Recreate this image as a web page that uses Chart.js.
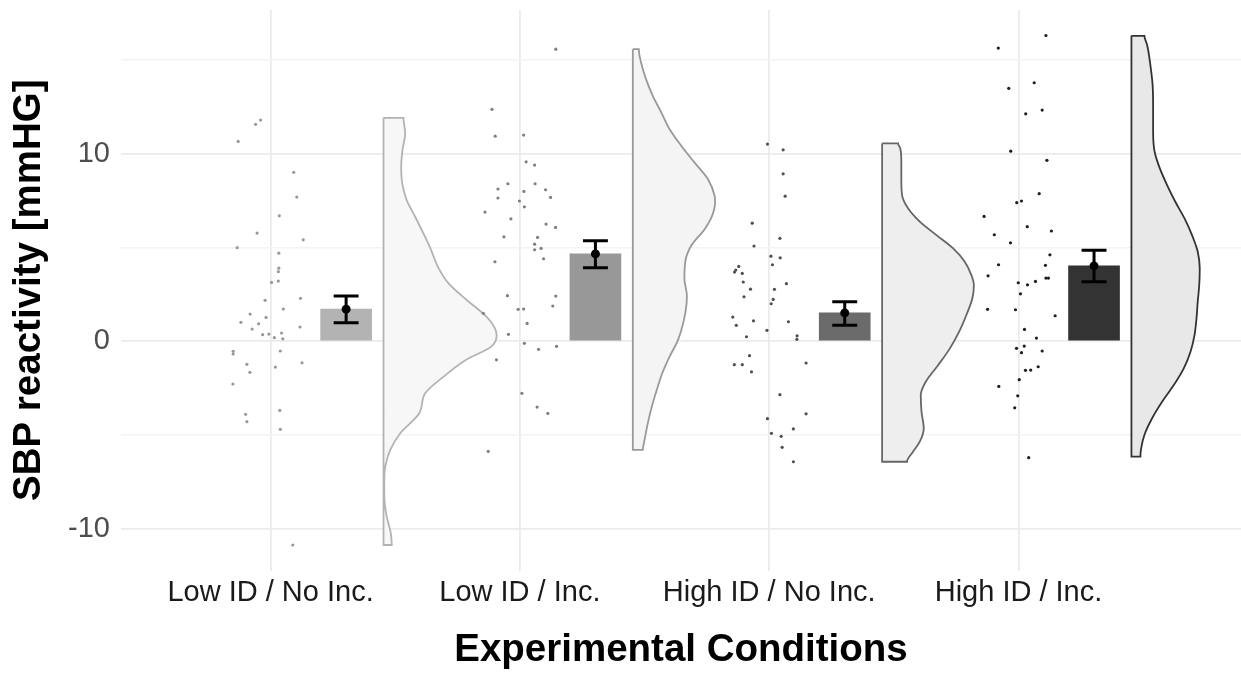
<!DOCTYPE html>
<html>
<head>
<meta charset="utf-8">
<script src="https://cdn.jsdelivr.net/npm/chart.js@4.4.1/dist/chart.umd.min.js"></script>
<style>
html,body{margin:0;padding:0;background:#ffffff;}
#wrap{width:1241px;height:675px;}
</style>
</head>
<body>
<div id="wrap"><canvas id="c" width="1241" height="675"></canvas></div>
<script>
// ---------------- data ----------------
const categories = ['Low ID / No Inc.', 'Low ID / Inc.', 'High ID / No Inc.', 'High ID / Inc.'];
const means  = [1.70, 4.65, 1.50, 4.01];
const ciLow  = [0.98, 3.91, 0.84, 3.16];
const ciHigh = [2.40, 5.35, 2.10, 4.84];
const yTickValues = [-10, -5, 0, 5, 10, 15];

// raw observations: horizontal jitter (category units) and value (mmHg)
const jitter1 = [-0.040,-0.060,-0.130,0.093,0.105,0.035,-0.054,0.131,-0.134,0.033,0.033,0.031,0.004,0.031,-0.022,0.120,0.051,-0.082,-0.018,-0.119,-0.048,-0.074,0.118,-0.032,-0.007,0.015,0.044,0.049,-0.150,-0.150,0.039,-0.095,0.126,0.019,-0.083,-0.151,0.037,-0.100,-0.095,0.039,0.089];
const values1 = [11.79,11.56,10.65,9.00,7.68,6.68,5.76,5.40,4.98,4.69,3.89,3.70,3.13,3.20,2.17,2.28,1.71,1.44,1.26,1.00,0.92,0.64,0.75,0.34,0.37,0.18,0.43,0.12,-0.55,-0.69,-0.53,-1.24,-1.16,-1.39,-1.67,-2.29,-3.70,-3.91,-4.30,-4.71,-10.88];
const jitter2 = [0.144,-0.112,-0.099,0.015,0.025,0.059,-0.048,-0.088,0.061,0.016,0.103,-0.088,-0.002,0.123,0.018,-0.140,-0.036,0.105,0.143,-0.064,0.071,0.059,0.085,0.059,0.095,-0.100,-0.050,0.144,0.132,-0.147,-0.007,0.015,0.029,-0.046,0.018,0.075,0.147,-0.094,0.008,0.069,0.112,-0.127];
const values2 = [15.57,12.36,10.93,10.99,9.56,9.39,8.39,8.11,8.39,7.98,8.07,7.63,7.47,7.66,7.16,6.88,6.52,6.24,6.06,5.56,5.53,5.17,4.94,4.87,4.39,4.23,2.42,2.40,1.87,1.48,1.69,1.71,0.94,0.36,-0.12,-0.44,-0.28,-1.00,-2.79,-3.52,-3.86,-5.88];
const jitter3 = [-0.007,0.056,0.056,0.064,-0.068,0.043,-0.061,0.007,0.044,0.013,-0.122,-0.134,-0.139,-0.108,-0.104,0.069,-0.075,0.021,-0.101,0.016,0.008,-0.146,-0.132,-0.063,0.077,-0.009,-0.091,0.112,0.111,-0.079,0.148,-0.140,-0.108,-0.071,0.043,0.148,-0.007,0.097,0.009,0.048,0.052,0.097];
const values3 = [10.51,10.20,8.92,7.73,6.29,5.48,5.07,4.53,4.44,4.07,3.98,3.79,3.68,3.61,3.15,3.06,2.77,2.76,2.36,2.22,1.99,1.28,0.84,1.08,1.03,0.57,0.23,0.28,0.09,-0.78,-1.17,-1.26,-1.26,-1.64,-2.86,-3.88,-4.14,-4.69,-4.92,-5.08,-5.67,-6.44];
const jitter4 = [0.110,-0.081,0.063,-0.039,0.095,0.029,-0.031,0.114,0.083,-0.007,0.012,-0.138,0.035,-0.097,0.132,-0.032,0.126,-0.080,0.108,-0.122,-0.001,0.036,0.068,0.110,0.120,0.008,-0.124,-0.012,0.147,0.024,0.072,-0.008,0.023,0.012,0.095,0.028,0.049,0.079,0.003,-0.079,-0.003,-0.015,0.041];
const values4 = [16.30,15.63,13.78,13.48,12.32,12.12,10.13,9.64,7.86,7.38,7.47,6.65,6.10,5.67,5.87,5.24,4.60,4.07,4.04,3.48,3.11,3.00,3.18,3.36,3.36,2.52,1.69,1.67,1.35,0.62,0.16,-0.39,-0.27,-0.62,-0.53,-1.56,-1.55,-1.37,-2.06,-2.42,-2.92,-3.56,-6.22];

// half-violin outlines: value (mmHg) and half-width (category units)
const violinY1 = [11.91,11.08,10.19,9.30,8.41,7.52,6.63,5.74,4.85,3.96,3.08,2.19,1.30,0.76,0.32,-0.30,-1.01,-1.90,-2.79,-3.84,-4.92,-5.81,-6.70,-7.57,-8.48,-9.37,-10.24,-10.88];
const violinW1 = [0.080,0.087,0.076,0.071,0.075,0.093,0.127,0.160,0.191,0.218,0.261,0.334,0.413,0.444,0.454,0.432,0.330,0.241,0.167,0.144,0.067,0.027,0.007,0.003,0.004,0.013,0.029,0.033];
const violinY2 = [15.57,14.86,13.97,13.08,12.20,11.31,10.42,9.53,8.64,7.75,7.40,6.68,5.97,5.08,4.20,3.31,2.42,1.53,0.05,-0.84,-1.72,-2.61,-3.50,-4.39,-5.28,-5.81];
const violinW2 = [0.024,0.033,0.053,0.080,0.114,0.147,0.194,0.247,0.301,0.328,0.330,0.318,0.288,0.234,0.210,0.207,0.217,0.211,0.181,0.147,0.118,0.096,0.076,0.060,0.047,0.040];
const violinY3 = [10.54,10.27,9.56,8.67,7.79,7.08,6.37,5.65,4.94,4.22,3.52,2.99,2.28,1.39,0.50,-0.39,-1.28,-2.17,-2.88,-3.77,-4.66,-5.37,-5.90,-6.44];
const violinW3 = [0.064,0.073,0.077,0.077,0.080,0.104,0.151,0.218,0.285,0.332,0.358,0.368,0.362,0.338,0.309,0.272,0.225,0.175,0.155,0.158,0.167,0.151,0.124,0.100];
const violinY4 = [16.28,15.79,14.72,13.65,12.41,11.17,10.10,9.21,8.32,7.43,6.54,5.65,4.76,3.88,2.99,2.10,1.21,0.32,-0.57,-1.46,-2.35,-3.24,-4.12,-5.01,-5.72,-6.17];
const violinW4 = [0.052,0.063,0.076,0.085,0.087,0.087,0.093,0.114,0.143,0.176,0.213,0.243,0.266,0.274,0.272,0.266,0.261,0.253,0.237,0.210,0.170,0.123,0.083,0.052,0.039,0.036];

// ---------------- layout / style constants ----------------
const BAR_OFFSET = 0.303;
const VIOLIN_OFFSET = 0.453;
const CAP_HALF = 0.05;
const FONT = "'Liberation Sans', Arial, Helvetica, sans-serif";
const barColors    = ['#b3b3b3', '#989898', '#6b6b6b', '#333333'];
const pointColors  = ['#999999', '#7f7f7f', '#505050', '#1e1e1e'];
const violinFills  = ['#f7f7f7', '#f4f4f4', '#eeeeee', '#e8e8e8'];
const violinLines  = ['#b3b3b3', '#999999', '#666666', '#333333'];

const jitters = [jitter1, jitter2, jitter3, jitter4];
const values  = [values1, values2, values3, values4];
const violinYs = [violinY1, violinY2, violinY3, violinY4];
const violinWs = [violinW1, violinW2, violinW3, violinW4];

const datasets = [];

// violins
violinYs.forEach((vy, g) => {
  const base = g + 1 + VIOLIN_OFFSET;
  const w = violinWs[g];
  const pts = [{x: base, y: vy[0]}];
  vy.forEach((v, i) => pts.push({x: base + w[i], y: v}));
  pts.push({x: base, y: vy[vy.length - 1]});
  pts.push({x: base, y: vy[0]});
  datasets.push({
    type: 'line', indexAxis: 'y', data: pts,
    cubicInterpolationMode: 'monotone',
    fill: 'shape', backgroundColor: violinFills[g], borderColor: violinLines[g],
    borderWidth: 1.8, pointRadius: 0, order: 10
  });
});

// raw points
values.forEach((vals, g) => {
  datasets.push({
    type: 'scatter',
    data: vals.map((v, i) => ({x: g + 1 + jitters[g][i], y: v})),
    pointRadius: 1.6, pointBorderWidth: 0, backgroundColor: pointColors[g],
    order: 5
  });
});

// bars (means)
datasets.push({
  type: 'bar',
  data: means.map((m, g) => ({x: g + 1 + BAR_OFFSET, y: m})),
  backgroundColor: barColors, borderWidth: 0, barThickness: 51, order: 3
});

// error bars
const errData = [];
means.forEach((m, g) => {
  const c = g + 1 + BAR_OFFSET;
  errData.push({x: c - CAP_HALF, y: ciHigh[g]}, {x: c + CAP_HALF, y: ciHigh[g]}, {x: c, y: null});
  errData.push({x: c, y: ciHigh[g]}, {x: c, y: ciLow[g]}, {x: c, y: null});
  errData.push({x: c - CAP_HALF, y: ciLow[g]}, {x: c + CAP_HALF, y: ciLow[g]}, {x: c, y: null});
});
datasets.push({
  type: 'line', data: errData, borderColor: '#000000', borderWidth: 3,
  pointRadius: 0, spanGaps: false, fill: false, tension: 0, order: 2
});

// mean dots
datasets.push({
  type: 'scatter',
  data: means.map((m, g) => ({x: g + 1 + BAR_OFFSET, y: m})),
  pointRadius: 4.5, pointBorderWidth: 0, backgroundColor: '#000000', order: 1
});

new Chart(document.getElementById('c'), {
  type: 'scatter',
  data: {datasets},
  options: {
    responsive: false, animation: false, devicePixelRatio: 1,
    layout: {autoPadding: false, padding: {top: 10, left: 0, right: 0, bottom: 0}},
    plugins: {legend: {display: false}, tooltip: {enabled: false}},
    scales: {
      x: {
        type: 'linear', min: 0.4, max: 4.8925, offset: false,
        afterBuildTicks: s => { s.ticks = categories.map((_, i) => ({value: i + 1})); },
        afterFit: s => { s.height = 104.5; s.paddingLeft = 0; s.paddingRight = 0; },
        ticks: {
          callback: v => categories[Math.round(v) - 1],
          autoSkip: false, maxRotation: 0, minRotation: 0,
          font: {family: FONT, size: 29}, color: '#1a1a1a', padding: 5
        },
        grid: {color: '#ebebeb', lineWidth: 1.8, drawTicks: false, offset: false},
        border: {display: false},
        title: {display: true, text: 'Experimental Conditions',
          font: {family: FONT, size: 38.5, weight: 'bold'}, color: '#000000',
          padding: {top: 0, bottom: 2}}
      },
      y: {
        type: 'linear', min: -12.24, max: 17.66,
        afterBuildTicks: s => { s.ticks = yTickValues.map(v => ({value: v})); },
        afterFit: s => { s.width = 121; s.paddingTop = 0; s.paddingBottom = 0; },
        ticks: {
          callback: v => (v % 10 === 0 ? String(v) : ''),
          font: {family: FONT, size: 29}, color: '#4d4d4d', padding: 11
        },
        grid: {
          color: c => (c.tick && c.tick.value % 10 === 0 ? '#ebebeb' : '#f3f3f3'),
          lineWidth: c => (c.tick && c.tick.value % 10 === 0 ? 1.8 : 1.4),
          drawTicks: false
        },
        border: {display: false},
        title: {display: true, text: 'SBP reactivity [mmHG]',
          font: {family: FONT, size: 38.5, weight: 'bold'}, color: '#000000',
          padding: {top: 6, bottom: 0}}
      }
    }
  }
});
</script>
</body>
</html>
